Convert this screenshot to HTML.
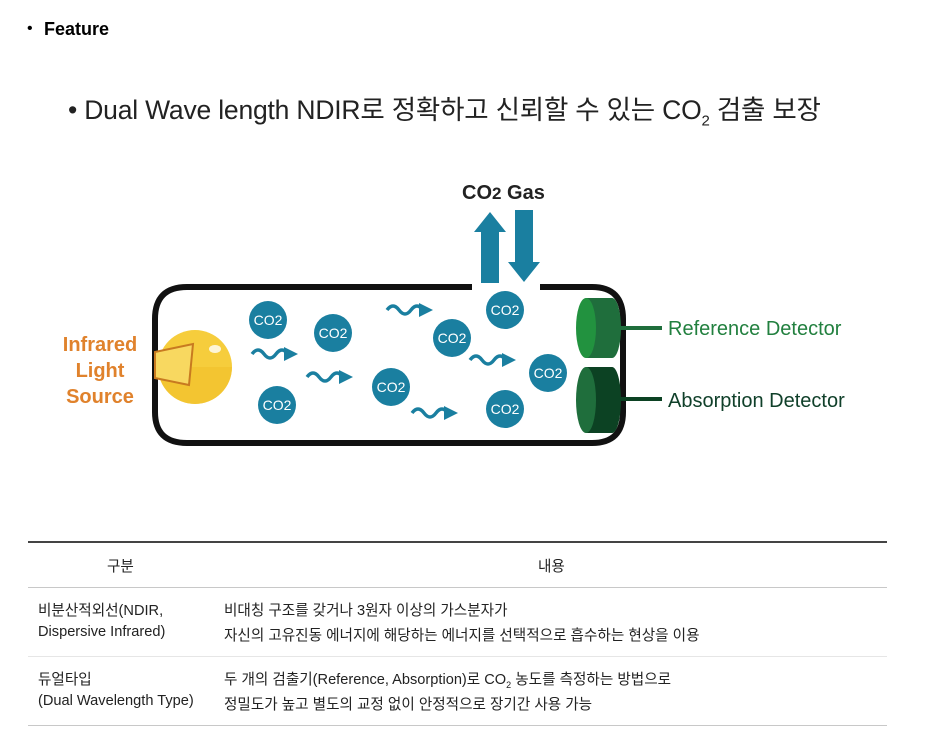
<!DOCTYPE html>
<html><head><meta charset="utf-8"><style>
body{margin:0;width:931px;height:741px;background:#fff;position:relative;overflow:hidden;font-family:"Liberation Sans","Noto Sans CJK KR",sans-serif;}
.a{position:absolute;white-space:nowrap;}
.t{font-size:14.6px;color:#222;}
.hl{position:absolute;left:28px;width:859px;height:1px;background:#c8c8c8;}
</style></head><body>
<div class="a" style="left:27px;top:20px;font-size:16px;color:#000;">•</div>
<div class="a" style="left:44px;top:19px;font-size:18px;font-weight:bold;color:#000;">Feature</div>
<div class="a" style="left:68px;top:88px;font-size:26.5px;color:#222;letter-spacing:-0.2px;">• Dual Wave length NDIR로 정확하고 신뢰할 수 있는 CO<sub style="font-size:15px">2</sub> 검출 보장</div>
<svg class="a" style="left:0;top:0" width="931" height="530">
<defs>
<marker id="m" markerWidth="4" markerHeight="4" refX="2" refY="2" orient="auto" markerUnits="strokeWidth"><path d="M0,0L4,2L0,4z" fill="#1a7fa0"/></marker>
</defs>
<text x="462" y="199" font-size="20" font-weight="bold" fill="#222" font-family="Liberation Sans,sans-serif">CO<tspan font-size="17">2</tspan> Gas</text>
<path d="M472,287 H187 Q155,287 155,319 V412 Q155,443 187,443 H592 Q623,443 623,412 V319 Q623,287 592,287 H540" fill="none" stroke="#111" stroke-width="6"/>
<path d="M481,283 V232 H474 L490,212 L506,232 H499 V283z" fill="#1a7fa0"/>
<path d="M515,210 V262 H508 L524,282 L540,262 H533 V210z" fill="#1a7fa0"/>
<circle cx="195" cy="367" r="37" fill="#f6cd3c"/>
<path d="M158,367 A37,37 0 0 0 232,367z" fill="#f2c02a" opacity=".6"/>
<ellipse cx="215" cy="349" rx="6" ry="4" fill="#fff" opacity=".8"/>
<path d="M155,352 L193,344 L189,385 L155,378z" fill="#f8d860" stroke="#c87a20" stroke-width="2"/>
<text font-size="20" font-weight="bold" fill="#e0822c" text-anchor="middle" font-family="Liberation Sans,sans-serif"><tspan x="100" y="351">Infrared</tspan><tspan x="100" y="377">Light</tspan><tspan x="100" y="403">Source</tspan></text>
<g fill="#1a7fa0">
<circle cx="268" cy="320" r="19"/><circle cx="333" cy="333" r="19"/><circle cx="452" cy="338" r="19"/><circle cx="505" cy="310" r="19"/><circle cx="391" cy="387" r="19"/><circle cx="277" cy="405" r="19"/><circle cx="505" cy="409" r="19"/><circle cx="548" cy="373" r="19"/>
</g>
<g fill="#fff" font-size="14" text-anchor="middle" font-family="Liberation Sans,sans-serif">
<text x="268" y="325">CO2</text><text x="333" y="338">CO2</text><text x="452" y="343">CO2</text><text x="505" y="315">CO2</text><text x="391" y="392">CO2</text><text x="277" y="410">CO2</text><text x="505" y="414">CO2</text><text x="548" y="378">CO2</text>
</g>
<g fill="none" stroke="#1a7fa0" stroke-width="3.5" marker-end="url(#m)">
<path d="M252,354 q6,-8 12,0 t12,0 t12,0 h3"/>
<path d="M307,377 q6,-8 12,0 t12,0 t12,0 h3"/>
<path d="M387,310 q6,-8 12,0 t12,0 t12,0 h3"/>
<path d="M470,360 q6,-8 12,0 t12,0 t12,0 h3"/>
<path d="M412,413 q6,-8 12,0 t12,0 t12,0 h3"/>
</g>
<path d="M586,298 H612 A9,30 0 0 1 612,358 H586z" fill="#1f6e3c"/>
<ellipse cx="586" cy="328" rx="10" ry="30" fill="#22923f"/>
<path d="M586,367 H612 A9,33 0 0 1 612,433 H586z" fill="#0c4223"/>
<ellipse cx="586" cy="400" rx="10" ry="33" fill="#1f6e3c"/>
<line x1="620" y1="328" x2="662" y2="328" stroke="#1f6e3c" stroke-width="4"/>
<line x1="620" y1="399" x2="662" y2="399" stroke="#0c4223" stroke-width="4"/>
<text x="668" y="335" font-size="20" fill="#22803f" font-family="Liberation Sans,sans-serif">Reference Detector</text>
<text x="668" y="407" font-size="20" fill="#10402a" font-family="Liberation Sans,sans-serif">Absorption Detector</text>
</svg>
<div class="hl" style="top:541px;height:2px;background:#444;"></div>
<div class="a t" style="left:107px;top:555px;">구분</div>
<div class="a t" style="left:538px;top:555px;">내용</div>
<div class="hl" style="top:587px;"></div>
<div class="a t" style="left:38px;top:599px;">비분산적외선(NDIR,</div>
<div class="a t" style="left:38px;top:624px;">Dispersive Infrared)</div>
<div class="a t" style="left:224px;top:599px;">비대칭 구조를 갖거나 3원자 이상의 가스분자가</div>
<div class="a t" style="left:224px;top:624px;">자신의 고유진동 에너지에 해당하는 에너지를 선택적으로 흡수하는 현상을 이용</div>
<div class="hl" style="top:656px;background:#e6e6e6;"></div>
<div class="a t" style="left:38px;top:668px;">듀얼타입</div>
<div class="a t" style="left:38px;top:693px;">(Dual Wavelength Type)</div>
<div class="a t" style="left:224px;top:668px;">두 개의 검출기(Reference, Absorption)로 CO<sub style="font-size:9px">2</sub> 농도를 측정하는 방법으로</div>
<div class="a t" style="left:224px;top:693px;">정밀도가 높고 별도의 교정 없이 안정적으로 장기간 사용 가능</div>
<div class="hl" style="top:725px;"></div>
</body></html>
